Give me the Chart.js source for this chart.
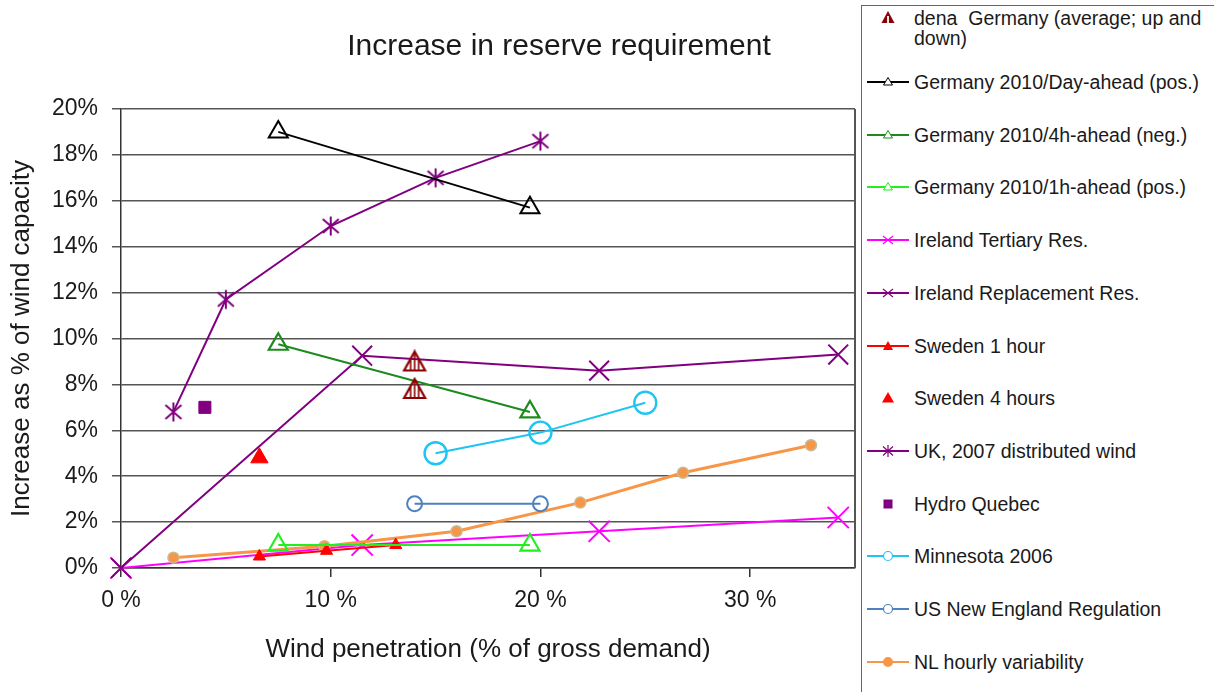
<!DOCTYPE html>
<html>
<head>
<meta charset="utf-8">
<title>Increase in reserve requirement</title>
<script src="https://cdn.jsdelivr.net/npm/chart.js@4.4.0/dist/chart.umd.min.js"></script>
<style>
  html, body { margin: 0; padding: 0; background: #fff; overflow: hidden; }
  #wrap { position: absolute; left: 0; top: 0; width: 874px; height: 692px; }
  #legend {
    position: absolute; left: 861px; top: 5px; width: 400px; height: 700px;
    border: 1px solid #666; background: #fff;
    font-family: 'Liberation Sans', Arial, sans-serif; font-size: 19.5px; color: #1a1a1a;
  }
  .item { position: absolute; left: 0; width: 350px; height: 20px; }
  .item svg { position: absolute; left: 4px; top: 0; }
  .item span { position: absolute; left: 52px; top: 0; line-height: 20px; white-space: pre; }
</style>
</head>
<body>
<div id="wrap"><canvas id="reserveChart"></canvas></div>
<div id="legend"></div>
<script>
// series names (legend order)
const seriesNames = [
  'dena  Germany (average; up and|down)',
  'Germany 2010/Day-ahead (pos.)',
  'Germany 2010/4h-ahead (neg.)',
  'Germany 2010/1h-ahead (pos.)',
  'Ireland Tertiary Res.',
  'Ireland Replacement Res.',
  'Sweden 1 hour',
  'Sweden 4 hours',
  'UK, 2007 distributed wind',
  'Hydro Quebec',
  'Minnesota 2006',
  'US New England Regulation',
  'NL hourly variability'
];

// values: wind penetration (%) and increase (%)
const denaX = [14, 14];
const denaY = [9.0, 7.8];
const dayAheadX = [7.5, 19.5];
const dayAheadY = [19.0, 15.7];
const fourHourX = [7.5, 19.5];
const fourHourY = [9.75, 6.8];
const oneHourX = [7.5, 19.5];
const oneHourY = [1.0, 1.0];
const irlTertiaryX = [0, 11.5, 22.8, 34.2];
const irlTertiaryY = [0, 1.0, 1.6, 2.2];
const irlReplX = [0, 11.5, 22.8, 34.2];
const irlReplY = [0, 9.25, 8.6, 9.3];
const swe1hX = [6.6, 9.8, 13.1];
const swe1hY = [0.5, 0.75, 1.0];
const swe4hX = [6.6];
const swe4hY = [4.8];
const ukX = [2.5, 5, 10, 15, 20];
const ukY = [6.8, 11.7, 14.9, 17.0, 18.6];
const hydroX = [4];
const hydroY = [7.0];
const minnX = [15, 20, 25];
const minnY = [5.0, 5.9, 7.2];
const newEngX = [14, 20];
const newEngY = [2.8, 2.8];
const nlX = [2.5, 9.7, 16, 21.9, 26.8, 32.9];
const nlY = [0.45, 0.95, 1.6, 2.85, 4.15, 5.35];

const xTicks = [0, 10, 20, 30];

function pts(xs, ys) {
  return xs.map((x, i) => ({ x: x, y: ys[i] }));
}

// marker images for shapes the library doesn't have
function asteriskImage(color) {
  const c = document.createElement('canvas');
  c.width = 22; c.height = 22;
  const g = c.getContext('2d');
  g.strokeStyle = color; g.lineWidth = 2;
  g.translate(11, 11);
  g.beginPath();
  g.moveTo(0, -9.5); g.lineTo(0, 9.5);
  g.moveTo(-8, -7); g.lineTo(8, 7);
  g.moveTo(-8, 7); g.lineTo(8, -7);
  g.stroke();
  return c;
}

function hatchedTriangle(color) {
  const c = document.createElement('canvas');
  c.width = 26; c.height = 24;
  const g = c.getContext('2d');
  g.strokeStyle = color; g.lineWidth = 2.2;
  g.beginPath();
  g.moveTo(13, 2); g.lineTo(2.5, 21); g.lineTo(23.5, 21); g.closePath();
  g.stroke();
  g.save();
  g.clip();
  g.lineWidth = 1.6;
  g.beginPath();
  [9, 13, 17].forEach(x => { g.moveTo(x, 0); g.lineTo(x, 24); });
  g.stroke();
  g.restore();
  return c;
}

const datasets = [
  { label: seriesNames[0], data: pts(denaX, denaY), showLine: false,
    pointStyle: hatchedTriangle('#8B0000'), pointRadius: 10, color: '#8B0000' },
  { label: seriesNames[1], data: pts(dayAheadX, dayAheadY), showLine: true,
    borderColor: '#000000', borderWidth: 1.8, pointStyle: 'triangle', pointRadius: 11,
    pointBorderColor: '#000000', pointBorderWidth: 2, pointBackgroundColor: 'rgba(0,0,0,0)' },
  { label: seriesNames[2], data: pts(fourHourX, fourHourY), showLine: true,
    borderColor: '#1E8A1E', borderWidth: 2, pointStyle: 'triangle', pointRadius: 11,
    pointBorderColor: '#1E8A1E', pointBorderWidth: 2.2, pointBackgroundColor: 'rgba(0,0,0,0)' },
  { label: seriesNames[3], data: pts(oneHourX, oneHourY), showLine: true,
    borderColor: '#22EE22', borderWidth: 2, pointStyle: 'triangle', pointRadius: 11,
    pointBorderColor: '#22EE22', pointBorderWidth: 2.2, pointBackgroundColor: 'rgba(0,0,0,0)' },
  { label: seriesNames[4], data: pts(irlTertiaryX, irlTertiaryY), showLine: true, order: 1,
    borderColor: '#FF00FF', borderWidth: 2, pointStyle: 'crossRot', pointRadius: 15,
    pointBorderColor: '#FF00FF', pointBorderWidth: 2 },
  { label: seriesNames[5], data: pts(irlReplX, irlReplY), showLine: true,
    borderColor: '#800080', borderWidth: 2, pointStyle: 'crossRot', pointRadius: 14,
    pointBorderColor: '#800080', pointBorderWidth: 2 },
  { label: seriesNames[6], data: pts(swe1hX, swe1hY), showLine: true,
    borderColor: '#FF0000', borderWidth: 2, pointStyle: 'triangle', pointRadius: 7,
    pointBorderColor: '#FF0000', pointBackgroundColor: '#FF0000', pointBorderWidth: 1 },
  { label: seriesNames[7], data: pts(swe4hX, swe4hY), showLine: false,
    pointStyle: 'triangle', pointRadius: 10,
    pointBorderColor: '#FF0000', pointBackgroundColor: '#FF0000', pointBorderWidth: 1 },
  { label: seriesNames[8], data: pts(ukX, ukY), showLine: true,
    borderColor: '#800080', borderWidth: 2, pointStyle: asteriskImage('#800080'), pointRadius: 10 },
  { label: seriesNames[9], data: pts(hydroX, hydroY), showLine: false,
    pointStyle: 'rect', pointRadius: 8.5,
    pointBorderColor: '#800080', pointBackgroundColor: '#800080', pointBorderWidth: 1 },
  { label: seriesNames[10], data: pts(minnX, minnY), showLine: true,
    borderColor: '#1EC4F2', borderWidth: 2, pointStyle: 'circle', pointRadius: 11,
    pointBorderColor: '#1EC4F2', pointBorderWidth: 2.4, pointBackgroundColor: 'rgba(0,0,0,0)' },
  { label: seriesNames[11], data: pts(newEngX, newEngY), showLine: true,
    borderColor: '#4F81BD', borderWidth: 2, pointStyle: 'circle', pointRadius: 7.5,
    pointBorderColor: '#4F81BD', pointBorderWidth: 2, pointBackgroundColor: 'rgba(0,0,0,0)' },
  { label: seriesNames[12], data: pts(nlX, nlY), showLine: true,
    borderColor: '#F79646', borderWidth: 3, pointStyle: 'circle', pointRadius: 5.5,
    pointBorderColor: '#C4BD97', pointBorderWidth: 1.5, pointBackgroundColor: '#F79646' }
];
datasets.forEach(d => { d.clip = false; d.tension = 0; });

// title and right frame edge
const decor = {
  id: 'decor',
  beforeDatasetsDraw(chart) {
    const { ctx, chartArea } = chart;
    ctx.save();
    ctx.strokeStyle = '#555';
    ctx.lineWidth = 2;
    ctx.beginPath();
    ctx.moveTo(chartArea.right, chartArea.top);
    ctx.lineTo(chartArea.right, chartArea.bottom);
    ctx.stroke();
    ctx.restore();
  },
  afterDraw(chart) {
    const ctx = chart.ctx;
    ctx.save();
    ctx.fillStyle = '#1a1a1a';
    ctx.font = "30px 'Liberation Sans', Arial, sans-serif";
    ctx.textAlign = 'center';
    ctx.textBaseline = 'middle';
    ctx.fillText('Increase in reserve requirement', 559, 47);
    ctx.restore();
  }
};

Chart.defaults.font.family = "'Liberation Sans', Arial, sans-serif";
Chart.defaults.color = '#1a1a1a';

new Chart(document.getElementById('reserveChart'), {
  type: 'scatter',
  data: { datasets: datasets },
  options: {
    responsive: true,
    maintainAspectRatio: false,
    animation: false,
    events: [],
    // right padding is larger than the point overflow so the plot ends at x=855
    layout: { padding: { top: 109, right: 19, bottom: 0, left: 0 } },
    plugins: { legend: { display: false }, tooltip: { enabled: false } },
    scales: {
      x: {
        type: 'linear', min: 0, max: 35,
        afterFit: s => { s.height = 124; },
        afterBuildTicks: s => { s.ticks = xTicks.map(v => ({ value: v })); },
        ticks: { font: { size: 23 }, padding: 10, maxRotation: 0, callback: v => v + ' %' },
        grid: { drawOnChartArea: false, drawTicks: true, tickLength: 9, color: '#333', lineWidth: 1.5 },
        border: { display: true, color: '#333', width: 1.5 },
        title: { display: true, text: 'Wind penetration (% of gross demand)', font: { size: 26 },
                 padding: { top: 0, bottom: 27 } }
      },
      y: {
        type: 'linear', min: 0, max: 20,
        afterFit: s => { s.width = 121; },
        ticks: { stepSize: 2, font: { size: 23 }, padding: 14, callback: v => v + '%' },
        grid: { color: '#555', lineWidth: 1.5, drawTicks: true, tickLength: 9 },
        border: { display: true, color: '#333', width: 1.5 },
        title: { display: true, text: 'Increase as % of wind capacity', font: { size: 26 },
                 padding: { top: 6, bottom: 0 } }
      }
    }
  },
  plugins: [decor]
});

// legend beside the plot
function legendMarker(i, cx, cy) {
  const d = datasets[i];
  const c = d.pointBorderColor || d.color;
  switch (i) {
    case 0:
      return `<polygon points="${cx},${cy - 7} ${cx - 6.5},${cy + 5} ${cx + 6.5},${cy + 5}" fill="${c}"/>` +
             `<line x1="${cx}" y1="${cy - 2}" x2="${cx}" y2="${cy + 5}" stroke="#fff" stroke-width="1.8"/>`;
    case 1: case 2: case 3:
      return `<polygon points="${cx},${cy - 4.5} ${cx - 4.5},${cy + 3} ${cx + 4.5},${cy + 3}" fill="#fff" stroke="${c}" stroke-width="1"/>`;
    case 4: case 5:
      return `<path d="M${cx - 5} ${cy - 4}L${cx + 5} ${cy + 4}M${cx - 5} ${cy + 4}L${cx + 5} ${cy - 4}" stroke="${c}" stroke-width="1.2"/>`;
    case 6:
      return `<polygon points="${cx},${cy - 5} ${cx - 5},${cy + 4} ${cx + 5},${cy + 4}" fill="${c}"/>`;
    case 7:
      return `<polygon points="${cx},${cy - 6} ${cx - 6},${cy + 4.5} ${cx + 6},${cy + 4.5}" fill="${c}"/>`;
    case 8:
      return `<path d="M${cx} ${cy - 6}V${cy + 6}M${cx - 5} ${cy - 4.5}L${cx + 5} ${cy + 4.5}M${cx - 5} ${cy + 4.5}L${cx + 5} ${cy - 4.5}" stroke="#800080" stroke-width="1.2"/>`;
    case 9:
      return `<rect x="${cx - 4.5}" y="${cy - 4.5}" width="9" height="9" fill="${c}"/>`;
    case 10: case 11:
      return `<circle cx="${cx}" cy="${cy}" r="4.5" fill="#fff" stroke="${c}" stroke-width="1.2"/>`;
    case 12:
      return `<circle cx="${cx}" cy="${cy}" r="5" fill="#F79646"/>`;
  }
  return '';
}

const legendEl = document.getElementById('legend');
datasets.forEach((d, i) => {
  const centre = i === 0 ? 18 : 82 + 52.7 * (i - 1);
  const item = document.createElement('div');
  item.className = 'item';
  item.style.top = (centre - 10 - 6) + 'px';
  let svg = '<svg width="44" height="20" viewBox="0 0 44 20">';
  if (d.showLine) {
    svg += `<line x1="1" y1="10" x2="43" y2="10" stroke="${d.borderColor}" stroke-width="2"/>`;
  }
  svg += legendMarker(i, 22, 10) + '</svg>';
  const text = d.label.split('|').join('\n');
  item.innerHTML = svg + '<span>' + text + '</span>';
  legendEl.appendChild(item);
});
</script>
</body>
</html>
